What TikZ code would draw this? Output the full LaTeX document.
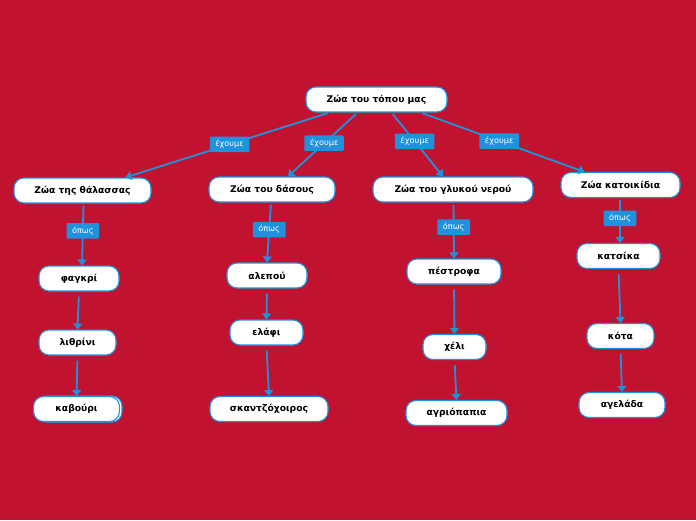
\documentclass[tikz,border=0pt]{standalone}
\usepackage{fontspec}
\setmainfont{DejaVu Sans}
\usetikzlibrary{calc,arrows.meta}
\definecolor{bgred}{RGB}{193,19,47}
\definecolor{linkblue}{RGB}{30,146,220}
\tikzset{ %styles for the concept map
  animal/.style={draw=linkblue, line width=1.1pt, fill=white, rounded corners=10pt,
    minimum height=25pt, inner sep=2pt, font=\bfseries\fontsize{9.2}{11}\selectfont},
  link/.style={draw=linkblue, line width=1.8pt, -{Triangle[width=9pt,length=6pt]},
    shorten <=2pt},
  tag/.style={fill=linkblue, text=white, font=\fontsize{8.2}{10}\selectfont,
    inner xsep=5.5pt, inner ysep=2pt, minimum height=15.5pt, rounded corners=1pt}
}

\begin{document}
\begin{tikzpicture}[x=1pt,y=-1pt] % y grows downwards, 1pt = 1px

\fill[bgred] (0,0) rectangle (696,520);
\useasboundingbox (0,0) rectangle (696,520);

\node[animal, minimum width=141pt] (root) at (376.5,99.5) {Ζώα του τόπου μας};

\node[animal, minimum width=137pt] (sea)    at (82.5,190.5) {Ζώα της θάλασσας};
\node[animal, minimum width=126pt] (forest) at (272,189.5)  {Ζώα του δάσους};
\node[animal, minimum width=160pt] (fresh)  at (453,189.5)  {Ζώα του γλυκού νερού};
\node[animal, minimum width=119pt] (pets)   at (620.5,185)  {Ζώα κατοικίδια};

% sea animals
\node[animal, minimum width=80pt] (fagkri)   at (79,278.5)  {φαγκρί};
\node[animal, minimum width=77pt] (lithrini) at (77.5,342.5) {λιθρίνι};
\draw[draw=linkblue, line width=1.1pt, fill=white, rounded corners=10pt] (37,396) rectangle (122,422);
\node[animal, minimum width=86pt] (kavouri)  at (76.5,409)  {καβούρι};

% forest animals
\node[animal, minimum width=80pt]  (alepou) at (267,275.5) {αλεπού};
\node[animal, minimum width=73pt]  (elafi)  at (266.5,332.5) {ελάφι};
\node[animal, minimum width=118pt] (skantzo) at (269,409)  {σκαντζόχοιρος};

% fresh water animals
\node[animal, minimum width=94pt]  (pestrofa)   at (454,271.5) {πέστροφα};
\node[animal, minimum width=63pt]  (cheli)      at (454.5,347) {χέλι};
\node[animal, minimum width=101pt] (agriopapia) at (456.5,413) {αγριόπαπια};

% pets
\node[animal, minimum width=83pt] (katsika) at (618.5,256) {κατσίκα};
\node[animal, minimum width=67pt] (kota)    at (620.5,336) {κότα};
\node[animal, minimum width=86pt] (agelada) at (622,405)   {αγελάδα};

\draw[link] ([xshift=-47pt]root.south) -- node[tag, pos=.49] {έχουμε} ([xshift=43pt]sea.north);
\draw[link] ([xshift=-19pt]root.south) -- node[tag, pos=.48] {έχουμε} ([xshift=16pt]forest.north);
\draw[link] ([xshift=15pt]root.south)  -- node[tag, pos=.45] {έχουμε} ([xshift=-10pt]fresh.north);
\draw[link] ([xshift=44pt]root.south)  -- node[tag, pos=.48] {έχουμε} ([xshift=-36pt]pets.north);

\draw[link] ([xshift=1pt]sea.south)    -- node[tag, pos=.44] {όπως} ([xshift=3pt]fagkri.north);
\draw[link] ([xshift=-1pt]forest.south) -- node[tag, pos=.45] {όπως} (alepou.north);
\draw[link] ([xshift=0.5pt]fresh.south) -- node[tag, pos=.44] {όπως} (pestrofa.north);
\draw[link] ([xshift=-0.5pt]pets.south) -- node[tag, pos=.45] {όπως} ([xshift=1.5pt]katsika.north);

\foreach \a/\b in {fagkri/lithrini, lithrini/kavouri, alepou/elafi, elafi/skantzo,
  pestrofa/cheli, cheli/agriopapia, katsika/kota, kota/agelada}
  \draw[link, shorten <=5pt] (\a.south) -- (\b.north);

\end{tikzpicture}
\end{document}
